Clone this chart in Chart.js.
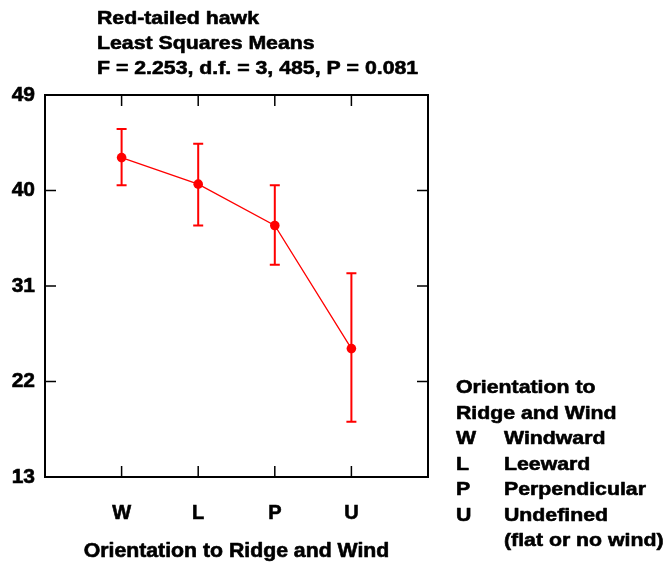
<!DOCTYPE html>
<html><head><meta charset="utf-8">
<script src="https://cdn.jsdelivr.net/npm/chart.js@4/dist/chart.umd.min.js"></script>
<style>html,body{margin:0;padding:0;background:#fff}#wrap{width:665px;height:562px;position:relative}</style>
</head><body><div id="wrap"><canvas id="c"></canvas></div>
<script>
const categories = ['W', 'L', 'P', 'U'];
const categoryPositions = [1, 2, 3, 4];
const means = [43.1, 40.6, 36.7, 25.1];
const upper = [45.8, 44.4, 40.5, 32.2];
const lower = [40.5, 36.7, 33.0, 18.2];
const yTicks = [13, 22, 31, 40, 49];
const titleLines = ['Red-tailed hawk', 'Least Squares Means', 'F = 2.253, d.f. = 3, 485, P = 0.081'];
const xAxisTitle = 'Orientation to Ridge and Wind';
const legendTitle = ['Orientation to', 'Ridge and Wind'];
const legendCodes = ['W', 'L', 'P', 'U', ''];
const legendNames = ['Windward', 'Leeward', 'Perpendicular', 'Undefined', '(flat or no wind)'];

const FONT = '"Liberation Sans", Arial, Helvetica, sans-serif';
const RED = '#ff0000';

function stretchedText(ctx, text, x, y, size, sx, align) {
  ctx.save();
  ctx.font = 'bold ' + size + 'px ' + FONT;
  ctx.fillStyle = '#000';
  ctx.strokeStyle = '#000';
  ctx.lineWidth = 0.6;
  ctx.lineJoin = 'round';
  ctx.textBaseline = 'alphabetic';
  ctx.textAlign = align || 'left';
  ctx.translate(x, y);
  ctx.scale(sx, 1);
  ctx.fillText(text, 0, 0);
  ctx.strokeText(text, 0, 0);
  ctx.restore();
}

const framePlugin = {
  id: 'frame',
  beforeDatasetsDraw(chart) {
    const ctx = chart.ctx, xs = chart.scales.x, ys = chart.scales.y;
    ctx.save();
    ctx.strokeStyle = RED;
    ctx.lineWidth = 2;
    for (let i = 0; i < means.length; i++) {
      const px = xs.getPixelForValue(categoryPositions[i]);
      const pu = ys.getPixelForValue(upper[i]);
      const pl = ys.getPixelForValue(lower[i]);
      ctx.beginPath();
      ctx.moveTo(px, pu); ctx.lineTo(px, pl);
      ctx.moveTo(px - 5, pu); ctx.lineTo(px + 5, pu);
      ctx.moveTo(px - 5, pl); ctx.lineTo(px + 5, pl);
      ctx.stroke();
    }
    ctx.restore();
  },
  afterDraw(chart) {
    const ctx = chart.ctx, a = chart.chartArea, xs = chart.scales.x, ys = chart.scales.y;
    ctx.save();
    ctx.strokeStyle = '#000';
    ctx.lineWidth = 2;
    ctx.strokeRect(a.left, a.top, a.right - a.left, a.bottom - a.top);
    ctx.lineWidth = 1.5;
    ctx.beginPath();
    categoryPositions.forEach(v => {
      const px = xs.getPixelForValue(v);
      ctx.moveTo(px, a.bottom); ctx.lineTo(px, a.bottom - 11);
      ctx.moveTo(px, a.top); ctx.lineTo(px, a.top + 11);
    });
    yTicks.forEach(v => {
      const py = ys.getPixelForValue(v);
      ctx.moveTo(a.left, py); ctx.lineTo(a.left + 11, py);
      ctx.moveTo(a.right, py); ctx.lineTo(a.right - 11, py);
    });
    ctx.stroke();
    ctx.restore();

    const sx = 1.12, size = 19;
    titleLines.forEach((t, i) => stretchedText(ctx, t, 97, 24 + i * 25, size, sx));
    legendTitle.forEach((t, i) => stretchedText(ctx, t, 456, 393 + i * 25.5, size, sx));
    legendNames.forEach((t, i) => {
      const y = 444 + i * 25.5;
      if (legendCodes[i]) stretchedText(ctx, legendCodes[i], 456, y, size, sx);
      stretchedText(ctx, t, 504, y, size, sx);
    });
    stretchedText(ctx, xAxisTitle, (a.left + a.right) / 2, 557, 19.5, 1.09, 'center');
  }
};

new Chart(document.getElementById('c'), {
  type: 'line',
  data: {
    datasets: [{
      data: categoryPositions.map((x, i) => ({ x: x, y: means[i] })),
      borderColor: RED,
      borderWidth: 1.3,
      backgroundColor: RED,
      pointRadius: 4.8,
      pointBackgroundColor: RED,
      pointBorderWidth: 0,
      tension: 0
    }]
  },
  options: {
    responsive: true,
    maintainAspectRatio: false,
    animation: false,
    events: [],
    layout: { padding: { top: 95, right: 237, left: 0, bottom: 0 } },
    plugins: { legend: { display: false }, tooltip: { enabled: false }, title: { display: false } },
    scales: {
      x: {
        type: 'linear', min: 0, max: 5,
        afterBuildTicks: s => { s.ticks = categoryPositions.map(v => ({ value: v })); },
        afterFit: s => { s.height = 85; },
        grid: { display: false, drawTicks: false },
        border: { display: false },
        ticks: {
          autoSkip: false, maxRotation: 0, padding: 24,
          color: '#000', textStrokeColor: '#000', textStrokeWidth: 0.6,
          font: { family: FONT, size: 20, weight: 'bold' },
          callback: v => categories[categoryPositions.indexOf(v)] || ''
        }
      },
      y: {
        type: 'linear', min: 13, max: 49,
        afterBuildTicks: s => { s.ticks = yTicks.map(v => ({ value: v })); },
        afterFit: s => { s.width = 45; },
        grid: { display: false, drawTicks: false },
        border: { display: false },
        ticks: {
          padding: 10, color: '#000', textStrokeColor: '#000', textStrokeWidth: 0.6,
          font: { family: FONT, size: 21, weight: 'bold' }
        }
      }
    }
  },
  plugins: [framePlugin]
});
</script>
</body></html>
